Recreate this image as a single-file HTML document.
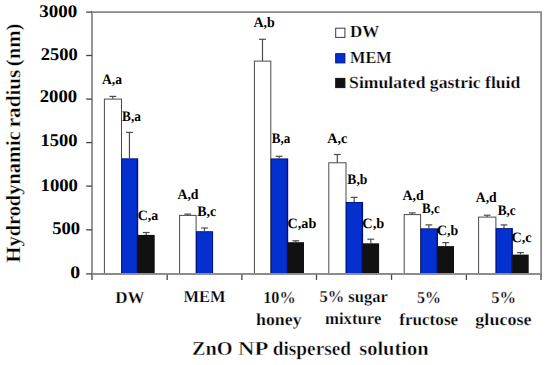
<!DOCTYPE html>
<html><head><meta charset="utf-8"><style>
html,body{margin:0;padding:0;background:#fff;}
svg{display:block;}
text{font-family:"Liberation Serif", serif;font-weight:bold;fill:#000;stroke:#fff;stroke-width:0px;text-rendering:geometricPrecision;}
</style></head><body>
<svg width="550" height="365" viewBox="0 0 550 365">
<rect width="550" height="365" fill="#fff"/>
<rect x="92.0" y="12.1" width="449.10" height="261.79999999999995" fill="none" stroke="#8c8c8c" stroke-width="1.8"/>
<line x1="86.2" y1="12.1" x2="92.0" y2="12.1" stroke="#454545" stroke-width="1.3"/>
<line x1="86.2" y1="55.5" x2="92.0" y2="55.5" stroke="#454545" stroke-width="1.3"/>
<line x1="86.2" y1="99.1" x2="92.0" y2="99.1" stroke="#454545" stroke-width="1.3"/>
<line x1="86.2" y1="142.6" x2="92.0" y2="142.6" stroke="#454545" stroke-width="1.3"/>
<line x1="86.2" y1="186.1" x2="92.0" y2="186.1" stroke="#454545" stroke-width="1.3"/>
<line x1="86.2" y1="229.8" x2="92.0" y2="229.8" stroke="#454545" stroke-width="1.3"/>
<line x1="86.2" y1="273.9" x2="92.0" y2="273.9" stroke="#454545" stroke-width="1.3"/>
<line x1="92.00" y1="273.9" x2="92.00" y2="279.9" stroke="#454545" stroke-width="1.3"/>
<line x1="167.20" y1="273.9" x2="167.20" y2="279.9" stroke="#454545" stroke-width="1.3"/>
<line x1="241.85" y1="273.9" x2="241.85" y2="279.9" stroke="#454545" stroke-width="1.3"/>
<line x1="316.50" y1="273.9" x2="316.50" y2="279.9" stroke="#454545" stroke-width="1.3"/>
<line x1="391.55" y1="273.9" x2="391.55" y2="279.9" stroke="#454545" stroke-width="1.3"/>
<line x1="466.40" y1="273.9" x2="466.40" y2="279.9" stroke="#454545" stroke-width="1.3"/>
<line x1="541.00" y1="273.9" x2="541.00" y2="279.9" stroke="#454545" stroke-width="1.3"/>
<rect x="104.40" y="99.10" width="17.10" height="174.80" fill="#fff" stroke="#4a4a4a" stroke-width="1"/>
<line x1="112.85" y1="99.10" x2="112.85" y2="96.40" stroke="#4a4a4a" stroke-width="1.2"/>
<line x1="109.45" y1="96.40" x2="116.25" y2="96.40" stroke="#4a4a4a" stroke-width="1.2"/>
<rect x="121.30" y="158.30" width="16.90" height="115.60" fill="#03127a"/>
<rect x="122.20" y="159.20" width="14.50" height="114.70" fill="#0330cf"/>
<line x1="129.45" y1="158.30" x2="129.45" y2="132.40" stroke="#4a4a4a" stroke-width="1.2"/>
<line x1="126.05" y1="132.40" x2="132.85" y2="132.40" stroke="#4a4a4a" stroke-width="1.2"/>
<rect x="137.60" y="234.90" width="17.10" height="39.00" fill="#111111"/>
<rect x="138.50" y="235.80" width="15.30" height="38.10" fill="#111111"/>
<line x1="146.15" y1="234.90" x2="146.15" y2="232.50" stroke="#4a4a4a" stroke-width="1.2"/>
<line x1="142.75" y1="232.50" x2="149.55" y2="232.50" stroke="#4a4a4a" stroke-width="1.2"/>
<rect x="179.60" y="215.40" width="16.50" height="58.50" fill="#fff" stroke="#4a4a4a" stroke-width="1"/>
<line x1="187.75" y1="215.40" x2="187.75" y2="214.10" stroke="#4a4a4a" stroke-width="1.2"/>
<line x1="184.35" y1="214.10" x2="191.15" y2="214.10" stroke="#4a4a4a" stroke-width="1.2"/>
<rect x="195.90" y="231.20" width="17.20" height="42.70" fill="#03127a"/>
<rect x="196.80" y="232.10" width="15.40" height="41.80" fill="#0330cf"/>
<line x1="204.50" y1="231.20" x2="204.50" y2="228.00" stroke="#4a4a4a" stroke-width="1.2"/>
<line x1="201.10" y1="228.00" x2="207.90" y2="228.00" stroke="#4a4a4a" stroke-width="1.2"/>
<rect x="254.40" y="61.10" width="16.40" height="212.80" fill="#fff" stroke="#4a4a4a" stroke-width="1"/>
<line x1="262.50" y1="61.10" x2="262.50" y2="39.30" stroke="#4a4a4a" stroke-width="1.2"/>
<line x1="259.10" y1="39.30" x2="265.90" y2="39.30" stroke="#4a4a4a" stroke-width="1.2"/>
<rect x="270.60" y="158.40" width="17.60" height="115.50" fill="#03127a"/>
<rect x="271.50" y="159.30" width="15.20" height="114.60" fill="#0330cf"/>
<line x1="279.10" y1="158.40" x2="279.10" y2="156.30" stroke="#4a4a4a" stroke-width="1.2"/>
<line x1="275.70" y1="156.30" x2="282.50" y2="156.30" stroke="#4a4a4a" stroke-width="1.2"/>
<rect x="287.60" y="242.20" width="16.40" height="31.70" fill="#111111"/>
<rect x="288.50" y="243.10" width="14.60" height="30.80" fill="#111111"/>
<line x1="295.80" y1="242.20" x2="295.80" y2="240.80" stroke="#4a4a4a" stroke-width="1.2"/>
<line x1="292.40" y1="240.80" x2="299.20" y2="240.80" stroke="#4a4a4a" stroke-width="1.2"/>
<rect x="328.80" y="162.80" width="17.20" height="111.10" fill="#fff" stroke="#4a4a4a" stroke-width="1"/>
<line x1="337.30" y1="162.80" x2="337.30" y2="154.50" stroke="#4a4a4a" stroke-width="1.2"/>
<line x1="333.90" y1="154.50" x2="340.70" y2="154.50" stroke="#4a4a4a" stroke-width="1.2"/>
<rect x="345.80" y="202.00" width="17.30" height="71.90" fill="#03127a"/>
<rect x="346.70" y="202.90" width="14.90" height="71.00" fill="#0330cf"/>
<line x1="354.15" y1="202.00" x2="354.15" y2="197.40" stroke="#4a4a4a" stroke-width="1.2"/>
<line x1="350.75" y1="197.40" x2="357.55" y2="197.40" stroke="#4a4a4a" stroke-width="1.2"/>
<rect x="362.50" y="243.30" width="16.60" height="30.60" fill="#111111"/>
<rect x="363.40" y="244.20" width="14.80" height="29.70" fill="#111111"/>
<line x1="370.80" y1="243.30" x2="370.80" y2="239.20" stroke="#4a4a4a" stroke-width="1.2"/>
<line x1="367.40" y1="239.20" x2="374.20" y2="239.20" stroke="#4a4a4a" stroke-width="1.2"/>
<rect x="404.20" y="214.60" width="16.40" height="59.30" fill="#fff" stroke="#4a4a4a" stroke-width="1"/>
<line x1="412.30" y1="214.60" x2="412.30" y2="212.90" stroke="#4a4a4a" stroke-width="1.2"/>
<line x1="408.90" y1="212.90" x2="415.70" y2="212.90" stroke="#4a4a4a" stroke-width="1.2"/>
<rect x="420.40" y="228.30" width="17.60" height="45.60" fill="#03127a"/>
<rect x="421.30" y="229.20" width="15.20" height="44.70" fill="#0330cf"/>
<line x1="428.90" y1="228.30" x2="428.90" y2="224.90" stroke="#4a4a4a" stroke-width="1.2"/>
<line x1="425.50" y1="224.90" x2="432.30" y2="224.90" stroke="#4a4a4a" stroke-width="1.2"/>
<rect x="437.40" y="246.10" width="16.60" height="27.80" fill="#111111"/>
<rect x="438.30" y="247.00" width="14.80" height="26.90" fill="#111111"/>
<line x1="445.70" y1="246.10" x2="445.70" y2="242.60" stroke="#4a4a4a" stroke-width="1.2"/>
<line x1="442.30" y1="242.60" x2="449.10" y2="242.60" stroke="#4a4a4a" stroke-width="1.2"/>
<rect x="478.60" y="217.10" width="17.30" height="56.80" fill="#fff" stroke="#4a4a4a" stroke-width="1"/>
<line x1="487.15" y1="217.10" x2="487.15" y2="215.20" stroke="#4a4a4a" stroke-width="1.2"/>
<line x1="483.75" y1="215.20" x2="490.55" y2="215.20" stroke="#4a4a4a" stroke-width="1.2"/>
<rect x="495.70" y="228.10" width="17.20" height="45.80" fill="#03127a"/>
<rect x="496.60" y="229.00" width="14.80" height="44.90" fill="#0330cf"/>
<line x1="504.00" y1="228.10" x2="504.00" y2="224.90" stroke="#4a4a4a" stroke-width="1.2"/>
<line x1="500.60" y1="224.90" x2="507.40" y2="224.90" stroke="#4a4a4a" stroke-width="1.2"/>
<rect x="512.30" y="254.60" width="16.40" height="19.30" fill="#111111"/>
<rect x="513.20" y="255.50" width="14.60" height="18.40" fill="#111111"/>
<line x1="520.50" y1="254.60" x2="520.50" y2="252.60" stroke="#4a4a4a" stroke-width="1.2"/>
<line x1="517.10" y1="252.60" x2="523.90" y2="252.60" stroke="#4a4a4a" stroke-width="1.2"/>
<line x1="92.0" y1="273.9" x2="541.10" y2="273.9" stroke="#8c8c8c" stroke-width="1.8"/>
<rect x="335.7" y="28.2" width="9.2" height="9.2" fill="#ffffff" stroke="#3a3a3a" stroke-width="1"/>
<rect x="335.7" y="53.7" width="9.2" height="9.2" fill="#0330cf" stroke="#03127a" stroke-width="1"/>
<rect x="335.7" y="78.4" width="9.2" height="9.2" fill="#111" stroke="#111" stroke-width="1"/>
<text transform="translate(39.24,17.15) scale(1.0654,1)" font-size="17.8">3000</text>
<text transform="translate(40.76,60.45) scale(1.0360,1)" font-size="17.8">2500</text>
<text transform="translate(39.75,102.35) scale(1.0506,1)" font-size="17.8">2000</text>
<text transform="translate(40.62,146.45) scale(1.0401,1)" font-size="17.8">1500</text>
<text transform="translate(40.61,191.35) scale(1.0491,1)" font-size="17.8">1000</text>
<text transform="translate(52.26,234.45) scale(1.0447,1)" font-size="17.8">500</text>
<text transform="translate(70.31,278.45) scale(1.1105,1)" font-size="17.8">0</text>
<text transform="translate(102.03,83.80) scale(0.9421,1)" font-size="14.4">A,a</text>
<text transform="translate(122.10,121.00) scale(0.9213,1)" font-size="14.4">B,a</text>
<text transform="translate(137.67,220.40) scale(0.9688,1)" font-size="14.4">C,a</text>
<text transform="translate(177.43,199.30) scale(0.9598,1)" font-size="14.4">A,d</text>
<text transform="translate(197.29,215.60) scale(0.9718,1)" font-size="14.4">B,c</text>
<text transform="translate(253.53,27.10) scale(0.9713,1)" font-size="14.4">A,b</text>
<text transform="translate(271.80,142.70) scale(0.9112,1)" font-size="14.4">B,a</text>
<text transform="translate(287.56,228.30) scale(0.9843,1)" font-size="14.4">C,ab</text>
<text transform="translate(327.23,142.50) scale(0.9862,1)" font-size="14.4">A,c</text>
<text transform="translate(347.30,183.90) scale(0.9474,1)" font-size="14.4">B,b</text>
<text transform="translate(362.35,228.10) scale(0.9981,1)" font-size="14.4">C,b</text>
<text transform="translate(402.43,199.80) scale(0.9690,1)" font-size="14.4">A,d</text>
<text transform="translate(422.00,213.10) scale(0.9088,1)" font-size="14.4">B,c</text>
<text transform="translate(437.07,234.70) scale(0.9645,1)" font-size="14.4">C,b</text>
<text transform="translate(475.83,201.60) scale(0.9460,1)" font-size="14.4">A,d</text>
<text transform="translate(497.70,214.60) scale(0.9193,1)" font-size="14.4">B,c</text>
<text transform="translate(511.46,241.70) scale(0.9897,1)" font-size="14.4">C,c</text>
<text style="stroke-width:0.25px" transform="translate(115.34,302.50) scale(1.0131,1)" font-size="16.8">DW</text>
<text style="stroke-width:0.25px" transform="translate(183.55,302.20) scale(0.9819,1)" font-size="16.8">MEM</text>
<text style="stroke-width:0.25px" transform="translate(263.20,302.70) scale(0.9660,1)" font-size="16.8">10%</text>
<text style="stroke-width:0.25px" transform="translate(256.04,324.50) scale(1.0606,1)" font-size="16.8">honey</text>
<text style="stroke-width:0.25px" transform="translate(319.44,302.40) scale(0.9847,1)" font-size="16.8">5% sugar</text>
<text style="stroke-width:0.25px" transform="translate(324.98,324.30) scale(0.9966,1)" font-size="16.8">mixture</text>
<text style="stroke-width:0.25px" transform="translate(416.96,302.50) scale(0.9515,1)" font-size="16.8">5%</text>
<text style="stroke-width:0.25px" transform="translate(399.21,324.50) scale(1.0200,1)" font-size="16.8">fructose</text>
<text style="stroke-width:0.25px" transform="translate(491.14,302.50) scale(0.9863,1)" font-size="16.8">5%</text>
<text style="stroke-width:0.25px" transform="translate(475.35,324.50) scale(1.0750,1)" font-size="16.8">glucose</text>
<text style="stroke-width:0.25px" transform="translate(349.94,37.30) scale(1.0071,1)" font-size="16.9">DW</text>
<text style="stroke-width:0.25px" transform="translate(350.05,62.90) scale(0.9667,1)" font-size="16.9">MEM</text>
<text style="stroke-width:0.25px" transform="translate(349.12,87.60) scale(1.0424,1)" font-size="16.9">Simulated gastric fluid</text>
<text style="stroke-width:0.4px" transform="translate(191.98,355.30) scale(1.0270,1)" font-size="19.8">ZnO</text>
<text style="stroke-width:0.4px" transform="translate(237.96,355.30) scale(1.1491,1)" font-size="19.8">NP</text>
<text style="stroke-width:0.4px" transform="translate(272.73,355.30) scale(0.9761,1)" font-size="19.8">dispersed</text>
<text style="stroke-width:0.4px" transform="translate(359.18,355.30) scale(1.0360,1)" font-size="19.8">solution</text>
<text transform="translate(19.70,262.41) rotate(-90) scale(1.0056,1)" font-size="20.3" style="stroke-width:0.3px">Hydrodynamic</text>
<text transform="translate(19.70,127.33) rotate(-90) scale(1.0427,1)" font-size="20.3" style="stroke-width:0.3px">radius</text>
<text transform="translate(19.70,66.13) rotate(-90) scale(1.0191,1)" font-size="20.3" style="stroke-width:0.3px">(nm)</text>
</svg>
</body></html>
